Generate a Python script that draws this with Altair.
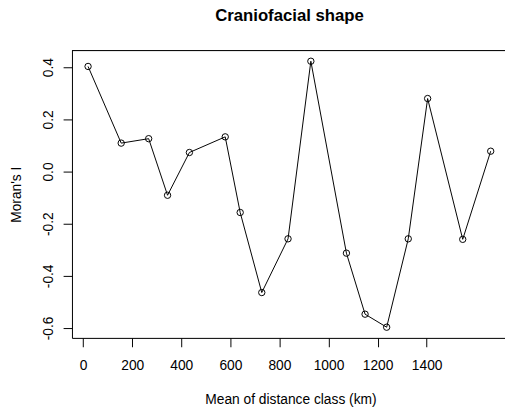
import altair as alt
import pandas as pd

# Data
distance_km = [20, 155, 267, 344, 433, 579, 640, 728, 835, 928, 1073, 1149, 1237, 1325, 1404, 1547, 1661]
morans_i = [0.403, 0.109, 0.126, -0.091, 0.073, 0.133, -0.157, -0.464, -0.258, 0.423,
            -0.313, -0.547, -0.597, -0.258, 0.280, -0.260, 0.078]
x_ticks = list(range(0, 1600, 100))
y_ticks = [-0.6, -0.4, -0.2, 0.0, 0.2, 0.4]

df = pd.DataFrame({"dist": distance_km, "I": morans_i})

FONT = "Liberation Sans"
W, H = 440, 292

x_enc = alt.X(
    "dist:Q",
    scale=alt.Scale(domain=[-45.6, 1719.3], nice=False, zero=False),
    axis=alt.Axis(
        values=x_ticks,
        labelExpr="datum.value % 200 == 0 ? toString(datum.value) : ''",
        title="Mean of distance class (km)",
        grid=False,
        tickSize=9,
        tickColor="black",
        domainColor="black",
        labelFont=FONT,
        labelFontSize=14,
        labelColor="black",
        labelPadding=12,
        labelFlush=False,
        titleFont=FONT,
        titleFontSize=14,
        titleFontWeight="normal",
        titleColor="black",
        titleX=222,
        titleY=67,
        titleBaseline="alphabetic",
        titleAlign="center",
    ),
)
y_enc = alt.Y(
    "I:Q",
    scale=alt.Scale(domain=[-0.638, 0.464], nice=False, zero=False),
    axis=alt.Axis(
        values=y_ticks,
        labelExpr="replace(format(datum.value, '.1f'), '\u2212', '-')",
        title="Moran's I",
        grid=False,
        tickSize=9,
        tickColor="black",
        domainColor="black",
        labelFont=FONT,
        labelFontSize=14,
        labelColor="black",
        labelAngle=270,
        labelAlign="center",
        labelBaseline="alphabetic",
        labelPadding=11,
        labelFlush=False,
        titleFont=FONT,
        titleFontSize=14,
        titleFontWeight="normal",
        titleColor="black",
        titleAngle=270,
        titleAlign="center",
        titleBaseline="alphabetic",
        titleX=-52,
        titleY=146,
    ),
)

base = alt.Chart(df)
line = base.mark_line(color="black", strokeWidth=1).encode(x=x_enc, y=y_enc)
pts = base.mark_point(shape="circle", filled=False, color="black", size=42, strokeWidth=1, opacity=1).encode(
    x="dist:Q", y="I:Q"
)
top_border = alt.Chart(pd.DataFrame({"a": [0]})).mark_rule(color="black", strokeWidth=1).encode(
    x=alt.value(0), x2=alt.value(W), y=alt.value(0)
)

chart = (
    alt.layer(line, pts, top_border)
    .properties(
        width=W,
        height=H,
        autosize=alt.AutoSizeParams(type="none"),
        padding={"left": 65, "top": 40, "right": 0, "bottom": 68},
        title=alt.TitleParams(
            "Craniofacial shape",
            font=FONT,
            fontSize=17,
            fontWeight="bold",
            color="black",
            anchor="middle",
            baseline="alphabetic",
            offset=13,
            dx=1,
        ),
    )
    .configure_view(stroke=None)
    .configure(background="white")
)

chart.save("out.html", embed_options={"renderer": "svg", "actions": False})
